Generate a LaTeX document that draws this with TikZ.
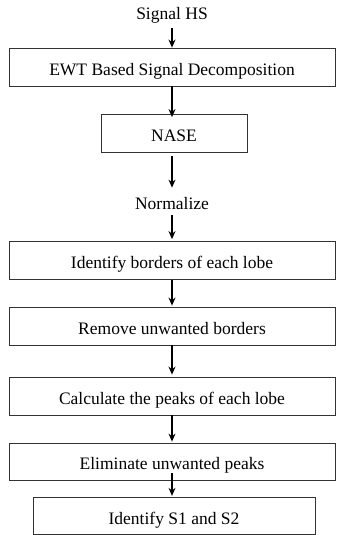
\documentclass[tikz,border=0pt]{standalone}
\usepackage{fontspec}
\setmainfont{Liberation Serif}
\usetikzlibrary{arrows,arrows.meta,shapes,positioning}
\tikzset{>={Stealth[length=8pt,width=7pt]}}
\tikzset{
	stepbox/.style={draw=black!80, line width=0.8pt, minimum width=326pt, minimum height=38pt, inner sep=0pt, text height=16pt, text depth=0pt, font=\fontsize{17.5pt}{19pt}\selectfont},
	plain/.style={inner sep=0pt, font=\fontsize{17.5pt}{19pt}\selectfont},
	flow/.style={->, line width=1.2pt}
}

\begin{document}
\begin{tikzpicture}[x=1pt, y=-1pt]
		\useasboundingbox (0,0) rectangle (337,535);
		\node[plain] (sig) at (172,15) {Signal HS};
		\node[stepbox] (ewt) at (172,67) {EWT Based Signal Decomposition};
		\node[stepbox, minimum width=146pt] (nase) at (174,133.5) {NASE};
		\node[plain] (norm) at (172,204) {Normalize};
		\node[stepbox] (borders) at (172,260.5) {Identify borders of each lobe};
		\node[stepbox] (remove) at (172,326) {Remove unwanted borders};
		\node[stepbox] (peaks) at (172,396) {Calculate the peaks of each lobe};
		\node[stepbox, minimum height=37pt] (elim) at (172,461.5) {Eliminate unwanted peaks};
		\node[stepbox, minimum width=282pt, minimum height=37.5pt] (ident) at (174,516) {Identify S1 and S2};
		% connectors
		\draw[flow] ([yshift=-5pt]sig.south) -- (ewt.north -| sig.south);
		\draw[flow] (ewt.south) -- ([yshift=-3pt]nase.north -| ewt.south);
		\draw[flow] ([yshift=-3pt]nase.south -| ewt.south) -- ([yshift=10pt]norm.north -| ewt.south);
		\draw[flow] ([yshift=-5pt]norm.south -| ewt.south) -- ([yshift=2pt]borders.north);
		\draw[flow] (borders.south) -- ([yshift=1pt]remove.north);
		\draw[flow] (remove.south) -- ([yshift=2pt]peaks.north);
		\draw[flow] (peaks.south) -- ([yshift=1pt]elim.north);
		\draw[flow] ([yshift=7pt]elim.south) -- ([yshift=1pt]ident.north -| elim.south);
	\end{tikzpicture}
\end{document}
